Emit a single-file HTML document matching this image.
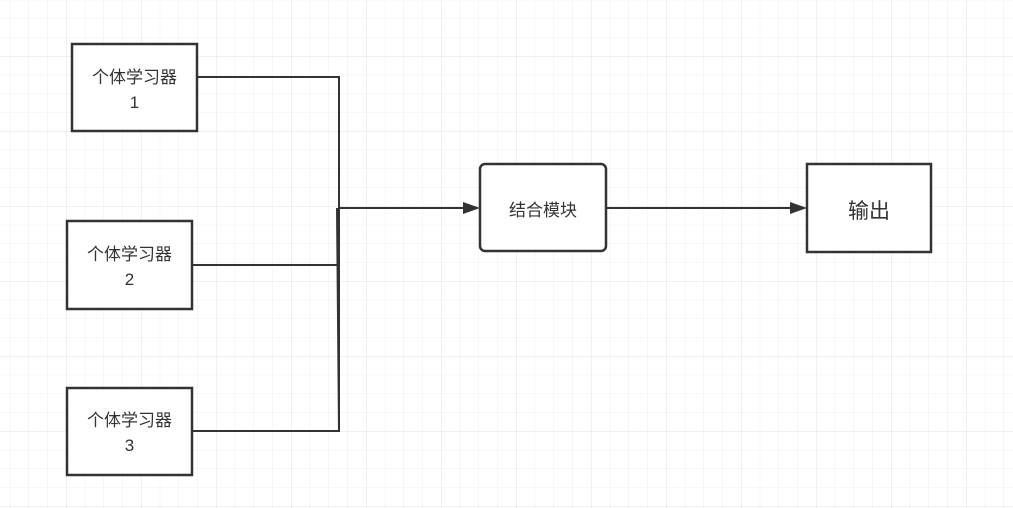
<!DOCTYPE html>
<html><head><meta charset="utf-8"><style>
html,body{margin:0;padding:0;background:#fff;}
svg{display:block}
text{font-family:"Liberation Sans","Noto Sans CJK SC",sans-serif;fill:#333;}
</style></head><body>
<svg width="1013" height="508" viewBox="0 0 1013 508" xmlns="http://www.w3.org/2000/svg">
<defs>
<pattern id="minor" x="66" y="56" width="18.75" height="18.75" patternUnits="userSpaceOnUse">
<path d="M0 0H18.75M0 0V18.75" stroke="#efefef" stroke-width="1" fill="none"/>
</pattern>
<pattern id="major" x="66" y="56" width="75" height="75" patternUnits="userSpaceOnUse">
<path d="M0 0H75M0 0V75" stroke="#e2e2e2" stroke-width="1" fill="none"/>
</pattern>
</defs>
<rect width="1013" height="508" fill="#fff"/>
<rect width="1013" height="508" fill="url(#minor)"/>
<rect width="1013" height="508" fill="url(#major)"/>
<g stroke="#333" stroke-width="2" fill="none">
<polyline points="197,77 339,77 339,432"/>
<polyline points="192,265 337,265"/>
<polyline points="192,431 338,431"/>
<line x1="337" y1="208" x2="339" y2="432"/>
<line x1="338" y1="208" x2="466" y2="208"/>
<line x1="606" y1="208" x2="793" y2="208"/>
</g>
<polygon points="480,208 463,202 463,214" fill="#333"/>
<polygon points="807,208 790,202 790,214" fill="#333"/>
<g stroke="#333" stroke-width="2.5" fill="#fff">
<rect x="72" y="44" width="125" height="87"/>
<rect x="67" y="221" width="125" height="88"/>
<rect x="67" y="388" width="125" height="87"/>
<rect x="480" y="164" width="126" height="87" rx="5"/>
<rect x="807" y="164" width="124" height="88"/>
</g>
<g font-size="17" text-anchor="middle">
<text x="134.5" y="83">个体学习器</text><text x="134.5" y="108">1</text>
<text x="129.5" y="260">个体学习器</text><text x="129.5" y="285">2</text>
<text x="129.5" y="426">个体学习器</text><text x="129.5" y="451">3</text>
<text x="543" y="216">结合模块</text>
<text x="869" y="218" font-size="21">输出</text>
</g>
</svg>
</body></html>
